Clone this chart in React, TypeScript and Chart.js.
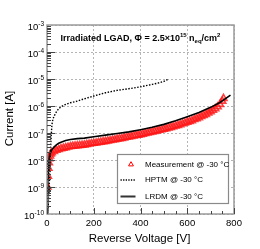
import { useEffect, useRef } from 'react';
import { Chart, registerables } from 'chart.js';

Chart.register(...registerables);

// ---- Data ----
const measV = [2, 4, 6, 8, 10, 13, 16, 20, 30, 40, 50, 60, 70, 80, 90, 100, 110, 120, 130, 140, 150, 160, 170, 180, 190, 200, 210, 220, 230, 240, 250, 260, 270, 280, 290, 300, 310, 320, 330, 340, 350, 360, 370, 380, 390, 400, 410, 420, 430, 440, 450, 460, 470, 480, 490, 500, 510, 520, 530, 540, 550, 560, 570, 580, 590, 600, 610, 620, 630, 640, 650, 660, 670, 680, 690, 700, 710, 720, 730, 740, 750, 755];
const measI = [1.0e-9, 2.5e-9, 5.0e-9, 7.9e-9, 1.12e-8, 1.41e-8, 1.66e-8, 1.86e-8, 2.09e-8, 2.29e-8, 2.45e-8, 2.63e-8, 2.75e-8, 2.88e-8, 3.02e-8, 3.16e-8, 3.24e-8, 3.31e-8, 3.39e-8, 3.47e-8, 3.55e-8, 3.63e-8, 3.80e-8, 3.89e-8, 4.07e-8, 4.17e-8, 4.27e-8, 4.47e-8, 4.57e-8, 4.79e-8, 4.90e-8, 5.13e-8, 5.25e-8, 5.50e-8, 5.62e-8, 5.89e-8, 6.17e-8, 6.31e-8, 6.61e-8, 6.92e-8, 7.08e-8, 7.41e-8, 7.76e-8, 8.13e-8, 8.32e-8, 8.71e-8, 9.12e-8, 9.55e-8, 1.00e-7, 1.05e-7, 1.10e-7, 1.15e-7, 1.20e-7, 1.26e-7, 1.32e-7, 1.38e-7, 1.45e-7, 1.55e-7, 1.62e-7, 1.70e-7, 1.82e-7, 1.91e-7, 2.04e-7, 2.19e-7, 2.34e-7, 2.51e-7, 2.69e-7, 2.88e-7, 3.16e-7, 3.39e-7, 3.72e-7, 4.07e-7, 4.47e-7, 4.90e-7, 5.50e-7, 6.17e-7, 6.92e-7, 7.94e-7, 9.33e-7, 1.15e-6, 1.51e-6, 1.91e-6];

const hptmV = [0, 6, 9, 12, 15, 18, 21, 25, 30, 40, 50, 60, 75, 100, 125, 150, 200, 250, 300, 350, 400, 450, 480, 500, 520];
const hptmI = [1e-10, 2.51e-10, 7.94e-10, 3.98e-9, 2.51e-8, 7.94e-8, 2.0e-7, 3.16e-7, 4.17e-7, 6.03e-7, 7.94e-7, 9.33e-7, 1.10e-6, 1.32e-6, 1.48e-6, 1.74e-6, 2.34e-6, 3.09e-6, 3.80e-6, 4.37e-6, 5.13e-6, 6.31e-6, 7.24e-6, 8.13e-6, 1.0e-5];

const lrdmV = [0, 2, 4, 6, 8, 10, 14, 20, 30, 40, 50, 60, 80, 100, 130, 160, 200, 250, 300, 350, 400, 450, 500, 550, 600, 650, 700, 740, 785];
const lrdmI = [1e-10, 3.16e-10, 1.26e-9, 3.98e-9, 7.94e-9, 1.26e-8, 1.78e-8, 2.34e-8, 3.02e-8, 3.63e-8, 4.17e-8, 4.57e-8, 5.25e-8, 5.75e-8, 6.17e-8, 6.46e-8, 7.24e-8, 8.32e-8, 9.55e-8, 1.10e-7, 1.32e-7, 1.62e-7, 2.09e-7, 2.82e-7, 3.98e-7, 5.75e-7, 8.91e-7, 1.35e-6, 2.51e-6];

const xTicks = [0, 200, 400, 600, 800];
const xMinorStep = 50;
const yTicks = [1e-10, 1e-9, 1e-8, 1e-7, 1e-6, 1e-5, 1e-4, 1e-3];

const xTitle = 'Reverse Voltage [V]';
const yTitle = 'Current [A]';
const legendLabels = ['Measurement @ -30 °C', 'HPTM @ -30 °C', 'LRDM @ -30 °C'];
// title pieces: [text, kind]
const titleParts: [string, string][] = [
  ['Irradiated LGAD, Φ = 2.5×10', 'n'],
  ['15', 'sup'],
  [' n', 'n'],
  ['eq', 'sub'],
  ['/cm', 'n'],
  ['2', 'sup'],
];

const FONT = '"Liberation Sans", Arial, Helvetica, sans-serif';

const decor = {
  id: 'decor',
  afterDatasetsDraw(chart: any) {
    const ctx: CanvasRenderingContext2D = chart.ctx;
    const { left, right, top, bottom } = chart.chartArea;
    const xs = chart.scales.x;
    const ys = chart.scales.y;
    ctx.save();

    // frame
    ctx.strokeStyle = '#9a9a9a';
    ctx.lineWidth = 1.5;
    ctx.strokeRect(left, top, right - left, bottom - top);

    // y ticks (major + minor)
    ctx.strokeStyle = '#444';
    ctx.lineWidth = 1;
    ctx.beginPath();
    for (let i = 0; i < yTicks.length; i++) {
      const v = yTicks[i];
      const py = Math.round(ys.getPixelForValue(v)) + 0.5;
      if (i > 0 && i < yTicks.length - 1) {
        ctx.moveTo(left, py);
        ctx.lineTo(left + 8, py);
      }
      if (i < yTicks.length - 1) {
        for (let k = 2; k <= 9; k++) {
          const pm = Math.round(ys.getPixelForValue(v * k)) + 0.5;
          ctx.moveTo(left, pm);
          ctx.lineTo(left + 4, pm);
        }
      }
    }
    // x ticks
    for (let v = xTicks[0]; v <= xTicks[xTicks.length - 1]; v += xMinorStep) {
      const px = Math.round(xs.getPixelForValue(v)) + 0.5;
      const len = xTicks.includes(v) ? 6 : 3;
      ctx.moveTo(px, bottom);
      ctx.lineTo(px, bottom - len);
    }
    ctx.stroke();

    // y tick labels 10^n
    ctx.fillStyle = '#000';
    ctx.textBaseline = 'alphabetic';
    for (const v of yTicks) {
      const py = ys.getPixelForValue(v);
      const exp = String(Math.round(Math.log10(v)));
      ctx.font = `6.5px ${FONT}`;
      const supW = ctx.measureText(exp).width;
      const xr = left - 3;
      ctx.textAlign = 'right';
      ctx.fillText(exp, xr, py + 0.5);
      ctx.font = `9.5px ${FONT}`;
      ctx.fillText('10', xr - supW, py + 4.5);
    }
    // x tick labels
    ctx.font = `9.5px ${FONT}`;
    ctx.textAlign = 'center';
    for (const v of xTicks) {
      ctx.fillText(String(v), xs.getPixelForValue(v), bottom + 11.5);
    }

    // axis titles
    ctx.font = `11.5px ${FONT}`;
    ctx.textAlign = 'center';
    ctx.fillText(xTitle, (left + right) / 2 - 1, 241.5);
    ctx.save();
    ctx.translate(12.5, (top + bottom) / 2 - 1);
    ctx.rotate(-Math.PI / 2);
    ctx.fillText(yTitle, 0, 0);
    ctx.restore();

    // title
    let tx = left + 13.5;
    const tb = 40.5;
    ctx.textAlign = 'left';
    for (const [t, kind] of titleParts) {
      if (kind === 'n') {
        ctx.font = `bold 9px ${FONT}`;
        ctx.fillText(t, tx, tb);
      } else if (kind === 'sup') {
        ctx.font = `bold 6px ${FONT}`;
        ctx.fillText(t, tx, tb - 3.8);
      } else {
        ctx.font = `bold 6px ${FONT}`;
        ctx.fillText(t, tx, tb + 2);
      }
      tx += ctx.measureText(t).width;
    }

    // legend
    const lx0 = 117, ly0 = 154, lx1 = 229, ly1 = 204;
    ctx.fillStyle = '#fff';
    ctx.fillRect(lx0, ly0, lx1 - lx0, ly1 - ly0);
    ctx.strokeStyle = '#8a8a8a';
    ctx.lineWidth = 1.2;
    ctx.strokeRect(lx0 + 0.5, ly0 + 0.5, lx1 - lx0 - 1, ly1 - ly0 - 1);
    const rows = [164.5, 180, 196.5];
    // marker 1: open triangle
    ctx.strokeStyle = '#ff0000';
    ctx.lineWidth = 1;
    const r = 2.8, cx = 131, cy = rows[0];
    ctx.beginPath();
    ctx.moveTo(cx, cy - r);
    ctx.lineTo(cx + r * 0.866, cy + r * 0.5);
    ctx.lineTo(cx - r * 0.866, cy + r * 0.5);
    ctx.closePath();
    ctx.stroke();
    // marker 2: dotted
    ctx.strokeStyle = '#000';
    ctx.lineWidth = 1.3;
    ctx.setLineDash([1.3, 1.3]);
    ctx.beginPath();
    ctx.moveTo(120.5, rows[1]);
    ctx.lineTo(135.5, rows[1]);
    ctx.stroke();
    ctx.setLineDash([]);
    // marker 3: solid
    ctx.strokeStyle = '#333';
    ctx.lineWidth = 2;
    ctx.beginPath();
    ctx.moveTo(120.5, rows[2]);
    ctx.lineTo(135.5, rows[2]);
    ctx.stroke();
    ctx.fillStyle = '#000';
    ctx.font = `8px ${FONT}`;
    ctx.textAlign = 'left';
    ctx.textBaseline = 'middle';
    legendLabels.forEach((l, i) => ctx.fillText(l, 145, rows[i]));

    ctx.restore();
  },
};

export default function App() {
  const ref = useRef<HTMLCanvasElement | null>(null);
  useEffect(() => {
    if (!ref.current) return;
    const chart = new Chart(ref.current, {
      type: 'line',
      data: {
        datasets: [
          {
            label: legendLabels[2],
            data: lrdmV.map((v, i) => ({ x: v, y: lrdmI[i] })),
            borderColor: '#000',
            borderWidth: 1.6,
            pointRadius: 0,
            tension: 0,
            order: 0,
          },
          {
            label: legendLabels[1],
            data: hptmV.map((v, i) => ({ x: v, y: hptmI[i] })),
            borderColor: '#000',
            borderWidth: 1.4,
            borderDash: [1.5, 1.5],
            pointRadius: 0,
            tension: 0,
            order: 1,
          },
          {
            label: legendLabels[0],
            data: measV.map((v, i) => ({ x: v, y: measI[i] })),
            showLine: false,
            pointStyle: 'triangle',
            pointRadius: 4,
            pointBorderWidth: 1.6,
            pointBorderColor: 'rgba(255,20,20,0.8)',
            pointBackgroundColor: 'rgba(255,120,120,0.15)',
            order: 2,
          },
        ],
      },
      options: {
        animation: false,
        responsive: false,
        devicePixelRatio: 1,
        layout: { padding: { left: 47, top: 25, right: 26, bottom: 35 } },
        plugins: {
          legend: { display: false },
          tooltip: { enabled: false },
          title: { display: false },
        },
        scales: {
          x: {
            type: 'linear',
            min: 0,
            max: 800,
            afterBuildTicks: (s: any) => {
              s.ticks = xTicks.map((v) => ({ value: v }));
            },
            ticks: { display: false },
            grid: { color: '#b5b5b5', lineWidth: 1, drawTicks: false },
            border: { display: false, dash: [2, 2] },
          },
          y: {
            type: 'logarithmic',
            min: 1e-10,
            max: 1e-3,
            afterBuildTicks: (s: any) => {
              s.ticks = yTicks.map((v) => ({ value: v }));
            },
            ticks: { display: false },
            grid: { color: '#b5b5b5', lineWidth: 1, drawTicks: false },
            border: { display: false, dash: [2, 2] },
          },
        },
      },
      plugins: [decor],
    } as any);
    return () => chart.destroy();
  }, []);
  return (
    <div style={{ position: 'absolute', left: 0, top: 0, width: 260, height: 249, background: '#fff' }}>
      <canvas ref={ref} width={260} height={249} style={{ display: 'block' }} />
    </div>
  );
}
